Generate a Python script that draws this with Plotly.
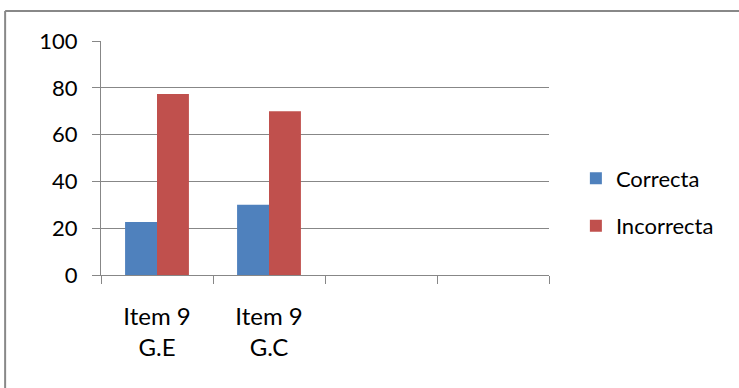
import plotly.graph_objects as go

categories = ["Item 9<br>G.E", "Item 9<br>G.C", " ", "  "]
correcta = [22.7, 30, None, None]
incorrecta = [77.3, 70, None, None]
series_names = ["Correcta", "Incorrecta"]
colors = ["#4F81BD", "#C0504D"]
y_ticks = [0, 20, 40, 60, 80, 100]

FONT = dict(family="Lato, Open Sans, sans-serif", size=22, color="#000000")
XFONT = dict(family="Lato, Open Sans, sans-serif", size=24, color="#000000")

fig = go.Figure()
for name, vals, col, grp in zip(series_names, [correcta, incorrecta], colors, ["a", "b"]):
    fig.add_trace(go.Bar(x=categories, y=vals, name=name, marker_color=col,
                         marker_line_width=0, legendgroup=grp))

fig.update_layout(
    width=739, height=388,
    margin=dict(l=101, r=190, t=41, b=113),
    paper_bgcolor="white", plot_bgcolor="white",
    font=FONT,
    barmode="group", bargap=0.43, bargroupgap=0,
    legend=dict(x=1.06, y=0.31, xanchor="left", yanchor="middle",
                traceorder="grouped", tracegroupgap=16,
                font=FONT, itemwidth=30),
    xaxis=dict(type="category", categoryorder="array", categoryarray=categories,
               showline=True, linecolor="#878787", linewidth=1,
               ticks="outside", ticklen=8, tickcolor="#878787",
               tickson="boundaries", showgrid=False, tickfont=XFONT,
               ticklabelstandoff=20),
    yaxis=dict(range=[0, 100], tickvals=y_ticks, showline=True, linecolor="#878787",
               linewidth=1, ticks="outside", ticklen=8, tickcolor="#878787",
               showgrid=True, gridcolor="#878787", gridwidth=1, zeroline=False,
               ticklabelstandoff=10, tickfont=FONT),
    shapes=[
        dict(type="line", xref="paper", yref="paper", x0=-0.214, x1=1.6,
             y0=1.128, y1=1.128, line=dict(color="#888888", width=2)),
        dict(type="line", xref="paper", yref="paper", x0=-0.214, x1=-0.214,
             y0=1.128, y1=-0.6, line=dict(color="#888888", width=2)),
    ],
)

fig.write_html("out.html")
